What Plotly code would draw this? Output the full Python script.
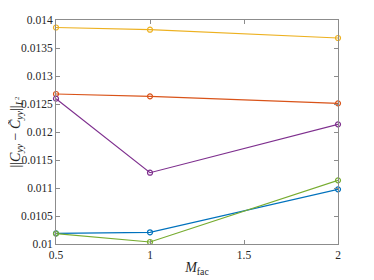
import plotly.graph_objects as go

m_fac = [0.5, 1, 2]
series_blue = [0.01019, 0.010209, 0.010976]
series_red = [0.012679, 0.012637, 0.012512]
series_yellow = [0.013866, 0.013827, 0.013679]
series_purple = [0.012595, 0.011273, 0.012137]
series_green = [0.010185, 0.010036, 0.011137]

x_ticks = [0.5, 1, 1.5, 2]
x_tick_labels = ["0.5", "1", "1.5", "2"]
y_ticks = [0.01, 0.0105, 0.011, 0.0115, 0.012, 0.0125, 0.013, 0.0135, 0.014]
y_tick_labels = ["0.01", "0.0105", "0.011", "0.0115", "0.012", "0.0125", "0.013", "0.0135", "0.014"]

colors = ["#0072BD", "#D95319", "#EDB120", "#7E2F8E", "#77AC30"]
series = [series_blue, series_red, series_yellow, series_purple, series_green]

fig = go.Figure()
for s, c in zip(series, colors):
    fig.add_trace(go.Scatter(
        x=m_fac, y=s, mode="lines+markers",
        line=dict(color=c, width=1.2),
        marker=dict(symbol="circle-open", size=5, color=c, line=dict(width=1.2, color=c)),
        showlegend=False, cliponaxis=False,
    ))

font = "Liberation Serif"
axis_common = dict(
    showline=True, mirror="ticks", linecolor="#8c8c8c", linewidth=1,
    ticks="inside", ticklen=4, tickcolor="#8c8c8c",
    showgrid=False, zeroline=False, automargin=False,
    tickfont=dict(family=font, size=11.5, color="#262626"),
)
fig.update_xaxes(
    range=[0.5, 2], tickvals=x_ticks, ticktext=x_tick_labels,
    title=dict(text="<i>M</i><sub>fac</sub>", font=dict(family=font, size=14, color="#262626"), standoff=2),
    **axis_common,
)
fig.update_yaxes(
    range=[0.01, 0.014], tickvals=y_ticks, ticktext=y_tick_labels,
    title=dict(text="||<i>C</i><sub><i>yy</i></sub> − <i>C̃</i><sub><i>yy</i></sub>||<sub><i>L</i><sup>2</sup></sub>",
               font=dict(family=font, size=14, color="#262626"), standoff=4),
    **axis_common,
)
fig.update_layout(
    width=366, height=272,
    margin=dict(l=48, r=36, t=12, b=36),
    plot_bgcolor="white", paper_bgcolor="white",
)
fig.write_html("out.html")
